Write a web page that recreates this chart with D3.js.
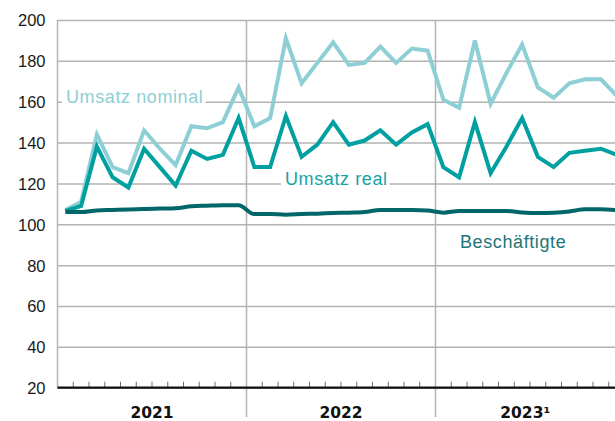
<!DOCTYPE html>
<html>
<head>
<meta charset="utf-8">
<script src="https://cdn.jsdelivr.net/npm/d3@7"></script>
<style>
  body { margin: 0; background: #fff; }
  svg { display: block; font-family: "DejaVu Sans", sans-serif; }
</style>
</head>
<body>
<svg id="chart" width="615" height="421"></svg>
<script>
// Umsatz und Beschäftigte, Index, monatlich 2021 bis 2023
const years = ["2021", "2022", "2023¹"];
const yTicks = [20, 40, 60, 80, 100, 120, 140, 160, 180, 200];

const nominal = [107, 111, 144, 128, 125, 146, 137, 129, 148, 147, 150, 167,
                 148, 152, 191, 169, 179, 189, 178, 179, 187, 179, 186, 185,
                 161, 157, 190, 159, 174, 188, 167, 162, 169, 171, 171, 163];
const real = [106.5, 109, 138, 123, 118, 137, 128, 119, 136, 132, 134, 152,
              128, 128, 153, 133, 139, 150, 139, 141, 146, 139, 145, 149,
              128, 123, 150, 125, 138, 152, 133, 128, 135, 136, 137, 134];
const besch = [106, 106, 106.8, 107, 107.2, 107.5, 107.7, 107.9, 108.8, 109.1, 109.3, 109.3,
               105, 105, 104.7, 105, 105.2, 105.5, 105.7, 106, 107, 107, 107, 106.7,
               105.7, 106.5, 106.5, 106.5, 106.5, 105.8, 105.5, 105.7, 106.3, 107.3, 107.3, 107];

const plotL = 57.5, plotR = 615, plotT = 20, plotB = 387.7;
const monthW = 15.75;

const svg = d3.select("#chart");

const x = d3.scaleLinear().domain([0, 36]).range([plotL, plotL + 36 * monthW]);
const y = d3.scaleLinear().domain([20, 200]).range([plotB, plotT]);

// horizontal gridlines + labels
const yAxis = d3.axisLeft(y)
    .tickValues(yTicks)
    .tickSize(-(plotR - plotL))
    .tickPadding(12)
    .tickFormat(d3.format("d"));

const gy = svg.append("g")
    .attr("transform", `translate(${plotL},0)`)
    .call(yAxis);
gy.select(".domain").remove();
gy.selectAll(".tick line").attr("stroke", "#b3b3b3").attr("stroke-width", 1.5);
gy.selectAll(".tick text")
    .attr("fill", "#1a1a1a")
    .style("font-size", "16.5px")
    .attr("dy", "0.36em");

// left border
svg.append("line")
    .attr("x1", plotL).attr("x2", plotL)
    .attr("y1", plotT).attr("y2", plotB)
    .attr("stroke", "#b3b3b3").attr("stroke-width", 1.5);

// year dividers
svg.append("g").selectAll("line")
    .data([12, 24])
    .join("line")
    .attr("x1", d => x(d)).attr("x2", d => x(d))
    .attr("y1", plotT).attr("y2", 417)
    .attr("stroke", "#b3b3b3").attr("stroke-width", 1.5);

// month ticks
svg.append("g").selectAll("line")
    .data(d3.range(1, 36).filter(d => d % 12 !== 0))
    .join("line")
    .attr("x1", d => x(d)).attr("x2", d => x(d))
    .attr("y1", plotB - 6).attr("y2", plotB)
    .attr("stroke", "#6e6e6e").attr("stroke-width", 1);

// x axis line
svg.append("line")
    .attr("x1", plotL).attr("x2", plotR)
    .attr("y1", plotB).attr("y2", plotB)
    .attr("stroke", "#111").attr("stroke-width", 2.2);

// year labels, centered on visible part of each year
svg.append("g").selectAll("text")
    .data(years)
    .join("text")
    .attr("x", (d, i) => (Math.max(x(i * 12), plotL) + Math.min(x(i * 12 + 12), plotR)) / 2)
    .attr("y", 418)
    .attr("text-anchor", "middle")
    .attr("font-weight", "bold")
    .attr("fill", "#111")
    .style("font-size", "15.5px")
    .text(d => d);

// series labels with white backing
const labels = [
    {text: "Umsatz nominal", v: 160, x0: 66, color: "#8dcfd4", bg: true},
    {text: "Umsatz real", v: 120, x0: 285, color: "#14a3a6", bg: true},
    {text: "Beschäftigte", v: 89, x0: 460, color: "#1e7477", bg: false}
];
const lg = svg.append("g");
labels.forEach(l => {
    const t = lg.append("text")
        .attr("x", l.x0)
        .attr("y", y(l.v) + 1.5)
        .attr("fill", l.color)
        .style("font-family", "'Liberation Sans', Arial, sans-serif")
        .style("font-size", "18px")
        .style("letter-spacing", "0.6px")
        .text(l.text);
    if (l.bg) {
        const bb = t.node().getBBox();
        lg.insert("rect", "text")
            .attr("x", bb.x - 4).attr("y", bb.y)
            .attr("width", bb.width + 6).attr("height", bb.height)
            .attr("fill", "#fff");
    }
});

// lines
const line = d3.line()
    .x((d, i) => x(i + 0.5))
    .y(d => y(d));

const plot = svg.append("g");
plot.append("path")
    .datum(nominal)
    .attr("d", line)
    .attr("fill", "none")
    .attr("stroke", "#8dcfd4")
    .attr("stroke-width", 4);

plot.append("path")
    .datum(real)
    .attr("d", line)
    .attr("fill", "none")
    .attr("stroke", "#00a0a0")
    .attr("stroke-width", 4);

plot.append("path")
    .datum(besch)
    .attr("d", line.curve(d3.curveMonotoneX))
    .attr("fill", "none")
    .attr("stroke", "#00666a")
    .attr("stroke-width", 4);
</script>
</body>
</html>
